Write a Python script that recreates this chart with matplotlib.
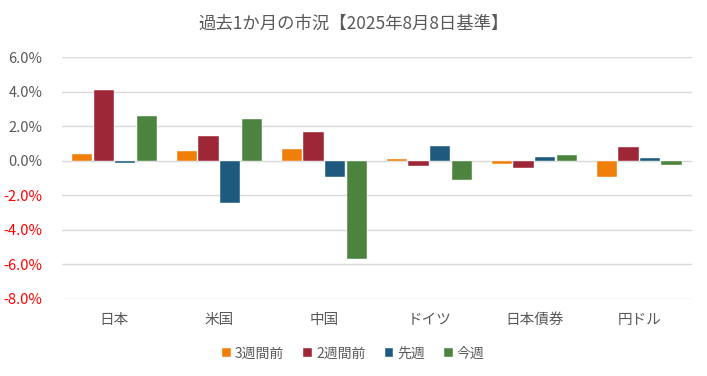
import numpy as np
import matplotlib
matplotlib.use("Agg")
import matplotlib.pyplot as plt
from matplotlib.ticker import FuncFormatter

plt.rcParams['font.family'] = ['Noto Sans CJK JP', 'DejaVu Sans']

categories = ["日本", "米国", "中国", "ドイツ", "日本債券", "円ドル"]
series_names = ["3週間前", "2週間前", "先週", "今週"]
w3 = [0.38, 0.58, 0.68, 0.12, -0.17, -0.93]
w2 = [4.07, 1.43, 1.66, -0.33, -0.42, 0.77]
w1 = [-0.15, -2.42, -0.97, 0.83, 0.24, 0.17]
w0 = [2.57, 2.40, -5.66, -1.10, 0.35, -0.27]
colors = ["#F07F09", "#9E2737", "#1E5A7E", "#4C843F"]
yticks = [6, 4, 2, 0, -2, -4, -6, -8]

fig = plt.figure(figsize=(7.07, 3.76), dpi=100)
ax = fig.add_axes([0.0877, 0.2048, 0.891, 0.6436])

x = np.arange(len(categories))
step = 0.205
width = 0.195
for i, (vals, name) in enumerate(zip([w3, w2, w1, w0], series_names)):
    ax.bar(x + (i - 1.5) * step, vals, width, color=colors[i], label=name,
           edgecolor="white", linewidth=0.3, zorder=3)

ax.set_xlim(-0.5, len(categories) - 0.5)
ax.set_ylim(-8, 6)
ax.set_yticks(yticks)
ax.yaxis.set_major_formatter(FuncFormatter(lambda v, p: f"{v:.1f}%"))
ax.grid(axis="y", color="#D9D9D9", linewidth=1, zorder=0)
for s in ax.spines.values():
    s.set_visible(False)
ax.tick_params(axis="both", length=0, labelsize=10.5, colors="#595959")
ax.tick_params(axis="y", pad=14)
ax.tick_params(axis="x", pad=10)
ax.set_xticks(x)
ax.set_xticklabels(categories)
for lab, v in zip(ax.get_yticklabels(), yticks):
    if v < 0:
        lab.set_color("#FF0000")

fig.text(0.5, 0.937, "過去1か月の市況【2025年8月8日基準】", ha="center", va="center",
         fontsize=12.5, color="#595959")

ax.legend(loc="center", ncol=4, frameon=False, fontsize=10, labelcolor="#595959",
          handlelength=0.6, handleheight=0.6, handletextpad=0.3,
          columnspacing=1.4, bbox_to_anchor=(0.5, 0.06),
          bbox_transform=fig.transFigure)

fig.savefig("out.png", dpi=100)
